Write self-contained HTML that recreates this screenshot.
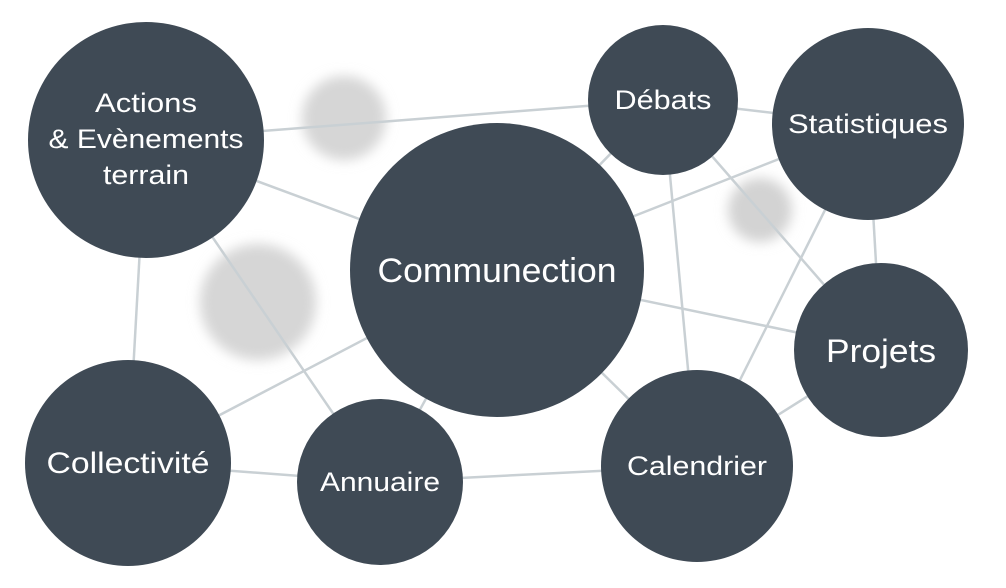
<!DOCTYPE html>
<html><head><meta charset="utf-8"><style>
html,body{margin:0;padding:0;background:#fff;}
svg{display:block;}
text{font-family:"Liberation Sans",sans-serif;fill:#fff;text-anchor:middle;}
</style></head><body>
<svg width="1006" height="588" viewBox="0 0 1006 588">
<defs><filter id="b" x="-50%" y="-50%" width="200%" height="200%"><feGaussianBlur stdDeviation="6"/></filter></defs>
<circle cx="344" cy="118" r="42" fill="#d6d6d6" filter="url(#b)"/>
<circle cx="258" cy="302" r="58" fill="#d6d6d6" filter="url(#b)"/>
<circle cx="760" cy="210" r="32" fill="#d3d3d3" filter="url(#b)"/>
<g stroke="#c9d0d4" stroke-width="2.5" fill="none">
<line x1="146" y1="140" x2="663" y2="100"/>
<line x1="146" y1="140" x2="497" y2="270"/>
<line x1="146" y1="140" x2="128" y2="463"/>
<line x1="146" y1="140" x2="380" y2="482"/>
<line x1="497" y1="270" x2="663" y2="100"/>
<line x1="497" y1="270" x2="868" y2="124"/>
<line x1="497" y1="270" x2="881" y2="350"/>
<line x1="497" y1="270" x2="697" y2="466"/>
<line x1="497" y1="270" x2="380" y2="482"/>
<line x1="497" y1="270" x2="128" y2="463"/>
<line x1="663" y1="100" x2="868" y2="124"/>
<line x1="663" y1="100" x2="697" y2="466"/>
<line x1="663" y1="100" x2="881" y2="350"/>
<line x1="868" y1="124" x2="697" y2="466"/>
<line x1="868" y1="124" x2="881" y2="350"/>
<line x1="881" y1="350" x2="697" y2="466"/>
<line x1="128" y1="463" x2="380" y2="482"/>
<line x1="380" y1="482" x2="697" y2="466"/>
</g>
<g fill="#3f4a55">
<circle cx="146" cy="140" r="118"/>
<circle cx="497" cy="270" r="147"/>
<circle cx="663" cy="100" r="75"/>
<circle cx="868" cy="124" r="96"/>
<circle cx="881" cy="350" r="87"/>
<circle cx="697" cy="466" r="96"/>
<circle cx="380" cy="482" r="83"/>
<circle cx="128" cy="463" r="103"/>
</g>
<text x="146" y="112" font-size="27" textLength="102" lengthAdjust="spacingAndGlyphs">Actions</text>
<text x="146" y="148" font-size="27" textLength="195" lengthAdjust="spacingAndGlyphs">&amp; Evènements</text>
<text x="146" y="184" font-size="27" textLength="86" lengthAdjust="spacingAndGlyphs">terrain</text>
<text x="497" y="282" font-size="34" textLength="239" lengthAdjust="spacingAndGlyphs">Communection</text>
<text x="663" y="109" font-size="27" textLength="97" lengthAdjust="spacingAndGlyphs">Débats</text>
<text x="868" y="133" font-size="27" textLength="160" lengthAdjust="spacingAndGlyphs">Statistiques</text>
<text x="881" y="362" font-size="32" textLength="110" lengthAdjust="spacingAndGlyphs">Projets</text>
<text x="697" y="475" font-size="27" textLength="140" lengthAdjust="spacingAndGlyphs">Calendrier</text>
<text x="380" y="491" font-size="27" textLength="120" lengthAdjust="spacingAndGlyphs">Annuaire</text>
<text x="128" y="473" font-size="30" textLength="163" lengthAdjust="spacingAndGlyphs">Collectivité</text>
</svg>
</body></html>
